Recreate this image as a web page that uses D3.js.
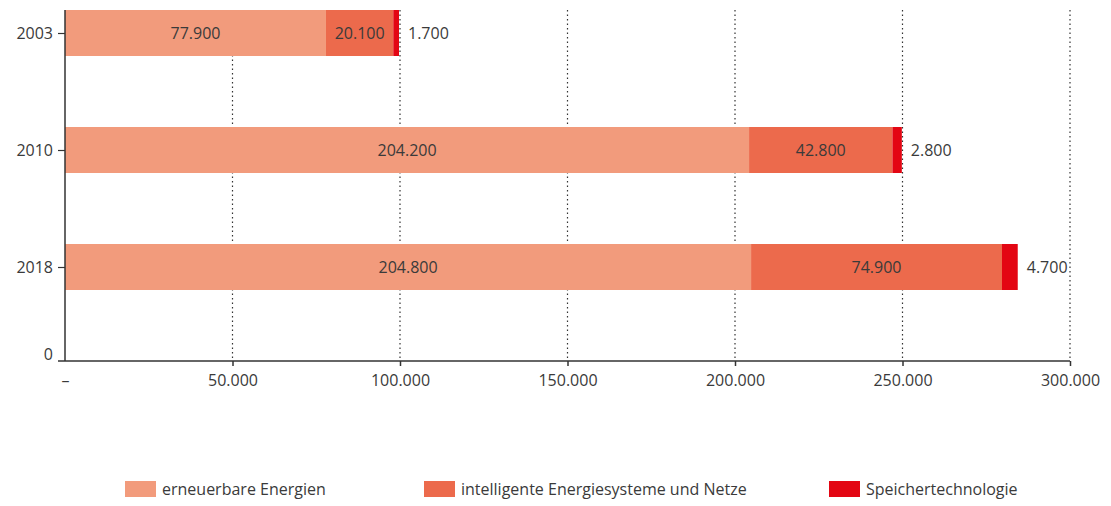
<!DOCTYPE html>
<html>
<head>
<meta charset="utf-8">
<script src="https://cdn.jsdelivr.net/npm/d3@7"></script>
<style>
  body { margin: 0; background: #fff; }
  svg text { font-family: "Open Sans", sans-serif; fill: #3a3a3a; }
</style>
</head>
<body>
<div id="chart"></div>
<script>
// years on the y axis
const years = ["2003", "2010", "2018"];
// series (values in the chart's units)
const seriesKeys = ["erneuerbare Energien", "intelligente Energiesysteme und Netze", "Speichertechnologie"];
const erneuerbar = [77900, 204200, 204800];
const intelligent = [20100, 42800, 74900];
const speicher = [1700, 2800, 4700];
const xTicks = [0, 50000, 100000, 150000, 200000, 250000, 300000];

const colors = ["#f29b7c", "#ec6a4c", "#e30613"];

const chartData = years.map((y, i) => ({
  year: y,
  [seriesKeys[0]]: erneuerbar[i],
  [seriesKeys[1]]: intelligent[i],
  [seriesKeys[2]]: speicher[i]
}));

const W = 1111, H = 506;
const plot = { left: 65, right: 1070, top: 10, bottom: 361 };
const fontSize = 16;

const svg = d3.select("#chart").append("svg")
  .attr("width", W)
  .attr("height", H);

const x = d3.scaleLinear().domain([0, 300000]).range([plot.left, plot.right]);
const y = d3.scalePoint().domain(years).range([33, 267]);
const barH = 46;

const fmt = v => v === 0 ? "–" : d3.format(",")(v).replace(/,/g, ".");

// dotted grid lines
svg.append("g")
  .selectAll("line")
  .data(xTicks.filter(d => d > 0))
  .join("line")
  .attr("x1", d => x(d)).attr("x2", d => x(d))
  .attr("y1", plot.top).attr("y2", plot.bottom)
  .attr("stroke", "#333")
  .attr("stroke-width", 1.2)
  .attr("stroke-dasharray", "1.5,3");

// stacked bars
const stacked = d3.stack().keys(seriesKeys)(chartData);

const layers = svg.append("g")
  .selectAll("g")
  .data(stacked)
  .join("g")
  .attr("fill", (d, i) => colors[i]);

layers.selectAll("rect")
  .data(d => d)
  .join("rect")
  .attr("x", d => x(d[0]))
  .attr("width", d => x(d[1]) - x(d[0]))
  .attr("y", d => y(d.data.year) - barH / 2)
  .attr("height", barH);

// value labels
stacked.forEach((layer, li) => {
  svg.append("g")
    .selectAll("text")
    .data(layer)
    .join("text")
    .attr("x", d => li < 2 ? (x(d[0]) + x(d[1])) / 2 : x(d[1]) + 9)
    .attr("y", d => y(d.data.year))
    .attr("dy", "0.35em")
    .attr("text-anchor", li < 2 ? "middle" : "start")
    .style("font-size", fontSize + "px")
    .text(d => fmt(d[1] - d[0]));
});

// x axis
const xAxis = svg.append("g")
  .attr("transform", `translate(0,${plot.bottom})`)
  .call(d3.axisBottom(x).tickValues(xTicks).tickFormat(fmt).tickSizeInner(5).tickSizeOuter(0).tickPadding(9));
xAxis.select(".domain").attr("d", `M${plot.left - 7},0H${plot.right}`).attr("stroke", "#333").attr("stroke-width", 1.5);
xAxis.selectAll(".tick line").attr("stroke", "#333").attr("stroke-width", 1.5);
xAxis.selectAll(".tick").filter(d => d === 0).select("line").remove();
xAxis.selectAll("text").style("font-size", fontSize + "px").attr("fill", "#3a3a3a");

// y axis
const yAxis = svg.append("g")
  .attr("transform", `translate(${plot.left},0)`)
  .call(d3.axisLeft(y).tickSizeInner(7).tickSizeOuter(0).tickPadding(5));
yAxis.select(".domain").attr("d", `M0,${plot.top}V${plot.bottom}`).attr("stroke", "#333").attr("stroke-width", 1.5);
yAxis.selectAll(".tick line").attr("stroke", "#333").attr("stroke-width", 1.2);
yAxis.selectAll("text").style("font-size", fontSize + "px").attr("fill", "#3a3a3a");

// "0" label at the bottom of the y axis
svg.append("text")
  .attr("x", plot.left - 12)
  .attr("y", plot.bottom - 1)
  .attr("text-anchor", "end")
  .style("font-size", fontSize + "px")
  .text("0");

// legend
const legendX = [125, 424, 829];
const legend = svg.append("g")
  .selectAll("g")
  .data(seriesKeys)
  .join("g")
  .attr("transform", (d, i) => `translate(${legendX[i]},481)`);

legend.append("rect")
  .attr("width", 31)
  .attr("height", 16)
  .attr("fill", (d, i) => colors[i]);

legend.append("text")
  .attr("x", 37)
  .attr("y", 8)
  .attr("dy", "0.35em")
  .style("font-size", fontSize + "px")
  .text(d => d);
</script>
</body>
</html>
